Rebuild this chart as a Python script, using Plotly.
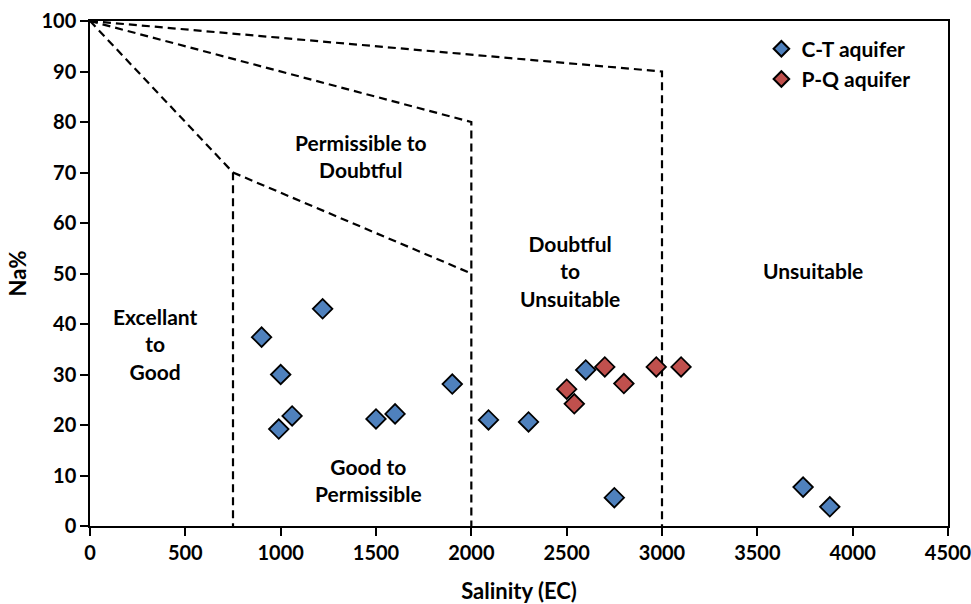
import plotly.graph_objects as go

# C-T aquifer
ct_ec = [900, 1220, 1000, 1060, 990, 1500, 1600, 1900, 2090, 2300, 2600, 2750, 3740, 3880]
ct_na = [37.4, 43.0, 30.0, 21.8, 19.2, 21.2, 22.2, 28.1, 21.0, 20.6, 30.9, 5.6, 7.7, 3.8]
# P-Q aquifer
pq_ec = [2500, 2540, 2700, 2800, 2970, 3100]
pq_na = [27.1, 24.2, 31.5, 28.2, 31.5, 31.5]

# Classification boundaries (Wilcox diagram)
boundaries = [
    ([0, 750, 750], [100, 70, 0]),
    ([750, 2000], [70, 50]),
    ([0, 2000, 2000], [100, 80, 0]),
    ([0, 3000, 3000], [100, 90, 0]),
]

zone_labels = ["Permissible to<br>Doubtful", "Doubtful<br>to<br>Unsuitable", "Unsuitable",
               "Excellant<br>to<br>Good", "Good to<br>Permissible"]
zone_x = [1420, 2520, 3790, 340, 1460]
zone_y = [73.3, 50.5, 50.5, 36.0, 9.2]

x_ticks = list(range(0, 4501, 500))
y_ticks = list(range(0, 101, 10))

FONT = "Lato"

fig = go.Figure()
for bx, by in boundaries:
    fig.add_trace(go.Scatter(x=bx, y=by, mode="lines", showlegend=False, hoverinfo="skip",
                             line=dict(color="black", width=2.2, dash="8px,5px")))

fig.add_trace(go.Scatter(x=ct_ec, y=ct_na, mode="markers", name="C-T aquifer",
                         marker=dict(symbol="diamond", size=15, color="#4F81BD",
                                     line=dict(color="black", width=1.8))))
fig.add_trace(go.Scatter(x=pq_ec, y=pq_na, mode="markers", name="P-Q aquifer",
                         marker=dict(symbol="diamond", size=15, color="#C0504D",
                                     line=dict(color="black", width=1.8))))

for t, x, y in zip(zone_labels, zone_x, zone_y):
    fig.add_annotation(x=x, y=y, text=t, showarrow=False,
                       font=dict(family=FONT, size=21, color="black", weight="bold"))

fig.update_layout(
    width=971, height=604,
    margin=dict(l=90, r=23, t=21, b=78),
    paper_bgcolor="white", plot_bgcolor="white",
    font=dict(family=FONT, size=20, color="black", weight="bold"),
    legend=dict(x=0.962, y=0.985, xanchor="right", yanchor="top",
                font=dict(family=FONT, size=21, color="black", weight="bold"),
                bgcolor="rgba(0,0,0,0)", itemsizing="constant", tracegroupgap=4),
    xaxis=dict(range=[0, 4500], tickvals=x_ticks, showgrid=False, zeroline=False,
               showline=True, linecolor="black", linewidth=1.5, mirror=True,
               ticks="outside", ticklen=8, tickwidth=1.5, tickcolor="black",
               automargin=False, ticklabeloverflow="allow",
               tickfont=dict(family=FONT, size=20, weight="bold"),
               title=dict(text="Salinity (EC)", standoff=23,
                          font=dict(family=FONT, size=22, weight="bold"))),
    yaxis=dict(range=[0, 100], tickvals=y_ticks, showgrid=False, zeroline=False,
               showline=True, linecolor="black", linewidth=1.5, mirror=True,
               ticks="outside", ticklen=8, tickwidth=1.5, tickcolor="black",
               automargin=False,
               tickfont=dict(family=FONT, size=20, weight="bold"),
               title=dict(text="Na%", standoff=9,
                          font=dict(family=FONT, size=22, weight="bold"))),
)

fig.write_html("out.html")
